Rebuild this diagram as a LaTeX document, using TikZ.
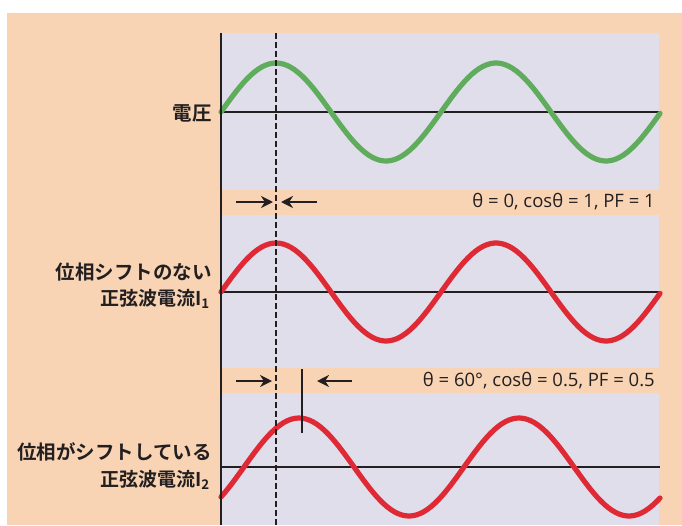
\documentclass[tikz,border=0pt]{standalone}
\usepackage{fontspec}
\setmainfont{Open Sans}
\newfontfamily\jpfont{Noto Sans CJK JP Bold}
\usetikzlibrary{arrows.meta}
\definecolor{peach}{HTML}{F8D4B4}
\definecolor{lavender}{HTML}{E0DEEA}
\definecolor{wavegreen}{HTML}{5FAC5C}
\definecolor{wavered}{HTML}{DF2A35}
\definecolor{ink}{HTML}{231F20}
\tikzset{
  axis/.style={line width=2.3pt, draw=ink},
  guide/.style={line width=2.6pt, draw=ink, dash pattern=on 6pt off 3pt},
  wave/.style={line width=5.2pt, line cap=round},
  pointer/.style={line width=2.4pt, draw=ink, -{Stealth[length=12pt,width=12pt]}},
  label/.style={font=\jpfont\fontsize{19.5}{19.5}\selectfont, anchor=east, text=ink, inner sep=0pt},
  sublabel/.style={font=\jpfont\fontsize{19}{19}\selectfont, anchor=east, text=ink, inner sep=0pt},
  info/.style={font=\fontsize{18.5}{18.5}\selectfont, anchor=east, text=ink, inner sep=0pt},
}
\begin{document}
\begin{tikzpicture}[x=1pt, y=-1pt]
  \useasboundingbox (0,0) rectangle (682,525);
  \fill[white] (0,0) rectangle (682,525);
  \fill[peach] (7,13) rectangle (682,525);
  \fill[lavender] (221,33) rectangle (659,525);
  \fill[peach] (221,190) rectangle (659,215);
  \fill[peach] (221,368) rectangle (659,393);

  \coordinate (ytop) at (221,33);
  \coordinate (ybot) at (221,525);
  \coordinate (dtop) at (276,33);
  \coordinate (dbot) at (276,525);
  \coordinate (v0) at (221,112);
  \coordinate (v1) at (660,112);
  \coordinate (c0) at (221,292);
  \coordinate (c1) at (660,292);
  \coordinate (s0) at (221,467);
  \coordinate (s1) at (660,467);

  \draw[axis] (v0) -- (v1);
  \draw[axis] (c0) -- (c1);
  \draw[axis] (s0) -- (s1);

  \draw[wave, wavegreen] plot[domain=221:660, samples=120] (\x, {112 - 49*sin((\x-221)/220*360)});
  \draw[wave, wavered] plot[domain=221:660, samples=120] (\x, {292 - 49*sin((\x-221)/220*360)});
  \draw[wave, wavered] plot[domain=221:660, samples=120] (\x, {467 - 49*sin((\x-244)/220*360)});

  \draw[axis] (ytop) -- (ybot);
  \draw[guide] (dtop) -- (dbot);

  \node[label] (volt) at (212,113) {電圧};
  \node[label] (noshift) at (212,272) {位相シフトのない};
  \node[sublabel] (cur1) at (210,299) {正弦波電流I\textsubscript{1}};
  \node[label] (shift) at (212,452) {位相がシフトしている};
  \node[sublabel] (cur2) at (210,480) {正弦波電流I\textsubscript{2}};

  \coordinate (a1) at (236,202);
  \coordinate (a2) at (273,202);
  \coordinate (b1) at (317,202);
  \coordinate (b2) at (281,202);
  \draw[pointer] (a1) -- (a2);
  \draw[pointer] (b1) -- (b2);
  \node[info] (pf1) at (655,202) {θ = 0, cosθ = 1, PF = 1};

  \coordinate (e1) at (236,381);
  \coordinate (e2) at (272,381);
  \coordinate (f1) at (352,381);
  \coordinate (f2) at (317,381);
  \coordinate (ptop) at (302,369);
  \coordinate (pbot) at (302,433);
  \draw[pointer] (e1) -- (e2);
  \draw[axis] (ptop) -- (pbot);
  \draw[pointer] (f1) -- (f2);
  \node[info] (pf2) at (655,381) {θ = 60°, cosθ = 0.5, PF = 0.5};
\end{tikzpicture}
\end{document}
